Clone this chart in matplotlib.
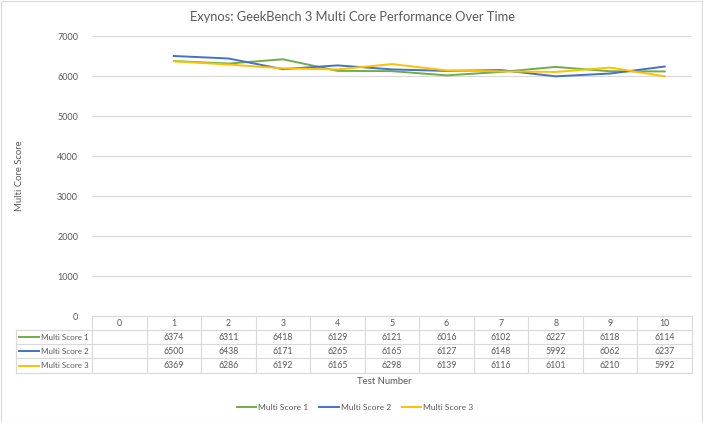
import matplotlib.pyplot as plt
from matplotlib.transforms import blended_transform_factory
from matplotlib.patches import Rectangle
from matplotlib.lines import Line2D

plt.rcParams['font.family'] = ['Lato', 'DejaVu Sans']

tests = [0, 1, 2, 3, 4, 5, 6, 7, 8, 9, 10]
score_1 = [None, 6374, 6311, 6418, 6129, 6121, 6016, 6102, 6227, 6118, 6114]
score_2 = [None, 6500, 6438, 6171, 6265, 6165, 6127, 6148, 5992, 6062, 6237]
score_3 = [None, 6369, 6286, 6192, 6165, 6298, 6139, 6116, 6101, 6210, 5992]
names = ['Multi Score 1', 'Multi Score 2', 'Multi Score 3']
colors = ['#70AD47', '#4472C4', '#FFC000']

W, H = 703, 422
grid_c = '#D9D9D9'
text_c = '#595959'

fig = plt.figure(figsize=(W / 100, H / 100), dpi=100)
ax = fig.add_axes([92 / W, (H - 316) / H, 600 / W, 280 / H])

series = [score_1, score_2, score_3]
for vals, c, n in zip(series, colors, names):
    xs = [t for t, v in zip(tests, vals) if v is not None]
    ys = [v for v in vals if v is not None]
    ax.plot(xs, ys, color=c, lw=1.4, label=n, zorder=3)

ax.set_xlim(-0.5, 10.5)
ax.set_ylim(0, 7000)
ax.set_yticks(range(0, 7001, 1000))
ax.set_xticks([])
ax.grid(axis='y', color=grid_c, lw=0.8)
ax.set_axisbelow(True)
for s in ax.spines.values():
    s.set_visible(False)
ax.tick_params(axis='y', length=0, pad=10, labelsize=6.5, labelcolor=text_c)
ax.set_ylabel('Multi Core Score', fontsize=6.8, color=text_c, labelpad=24)

fig.text(352 / W, 1 - 17 / H, 'Exynos: GeekBench 3 Multi Core Performance Over Time',
         ha='center', va='center', fontsize=9.3, color=text_c)

# data table under the plot
tr = blended_transform_factory(ax.transData, fig.transFigure)
def fy(py):
    return 1 - py / H

row_edges = [316, 330, 344, 358, 373]
col_edges = [t - 0.5 for t in tests] + [10.5]
x_left = ax.transData.inverted().transform(
    fig.transFigure.transform((16 / W, 0)))[0]

for e in col_edges:
    fig.add_artist(Line2D([e, e], [fy(316), fy(373)], transform=tr, color=grid_c, lw=0.8))
fig.add_artist(Line2D([x_left, x_left], [fy(330), fy(373)], transform=tr, color=grid_c, lw=0.8))
for i, r in enumerate(row_edges):
    x0 = -0.5 if i == 0 else x_left
    fig.add_artist(Line2D([x0, 10.5], [fy(r), fy(r)], transform=tr, color=grid_c, lw=0.8))

for t in tests:
    fig.text(t, fy(323), str(t), transform=tr, ha='center', va='center',
             fontsize=6.3, color=text_c)

for i, (vals, c, n) in enumerate(zip(series, colors, names)):
    yc = fy((row_edges[i + 1] + row_edges[i + 2]) / 2)
    fig.add_artist(Line2D([19 / W, 39 / W], [yc, yc], color=c, lw=1.4))
    fig.text(89 / W, yc, n, ha='right', va='center', fontsize=5.8, color=text_c)
    for t, v in zip(tests, vals):
        if v is not None:
            fig.text(t, yc, str(v), transform=tr, ha='center', va='center',
                     fontsize=6.3, color=text_c)

fig.text(384 / W, fy(382), 'Test Number', ha='center', va='center',
         fontsize=6.8, color=text_c)

handles, labels = ax.get_legend_handles_labels()
fig.legend(handles, labels, loc='center', bbox_to_anchor=(355 / W, fy(407)),
           ncol=3, frameon=False, fontsize=6.1, labelcolor=text_c,
           handlelength=2.3, handletextpad=0.2, columnspacing=1.3)

fig.add_artist(Rectangle((0.5 / W, 0.5 / H), (W - 1.5) / W, (H - 1.5) / H,
                         transform=fig.transFigure, fill=False, edgecolor=grid_c, lw=0.8))

fig.savefig('out.png', dpi=100)
